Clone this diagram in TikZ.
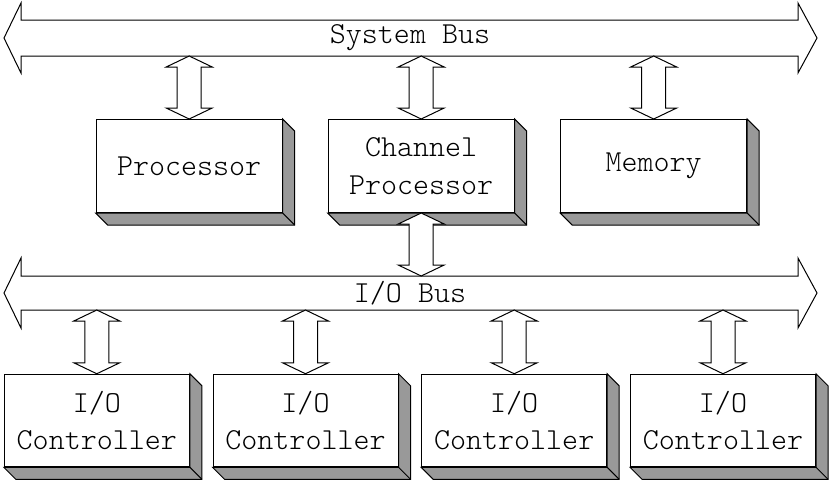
\documentclass[tikz,border=0pt]{standalone}
\usepackage{fontspec}
\usetikzlibrary{calc}
\newfontfamily\lightmono{lmmonolt10-regular.otf}
\newcommand\labfont{\fontsize{30.5}{37.3}\selectfont\lightmono}
\tikzset{
  box/.style={draw, fill=white, line width=1pt, minimum width=186pt, minimum height=93pt, inner sep=0pt, align=center, font=\labfont},
  shade3d/.style={draw, fill=black!40, line width=1pt, line join=miter},
  barrow/.style={draw, fill=white, line width=1pt, line join=miter},
  buslabel/.style={inner sep=0pt, font=\labfont},
}
% shadow (3D extrusion) of a box node
\newcommand\shadowof[1]{%
  \path[shade3d] (#1.north east) -- ++(12,12) -- ($(#1.south east)+(12,12)$) -- ($(#1.south west)+(12,12)$) -- (#1.south west) -- (#1.south east) -- cycle;
  \draw[line width=1pt] (#1.south east) -- ++(12,12);}
% vertical double block arrow: #1 top point, #2 bottom point
\newcommand\vda[2]{%
  \path[barrow] let \p1=(#1), \p2=(#2) in
    (\x2,\y1) -- (\x2+23pt,\y1-11pt) -- (\x2+12pt,\y1-11pt) -- (\x2+12pt,\y2+11pt)
    -- (\x2+23pt,\y2+11pt) -- (\x2,\y2) -- (\x2-23pt,\y2+11pt) -- (\x2-12pt,\y2+11pt)
    -- (\x2-12pt,\y1-11pt) -- (\x2-23pt,\y1-11pt) -- cycle;}
% horizontal bus double arrow: #1 centre y, #2 shaft half width
\newcommand\busarrow[2]{%
  \path[barrow] (4,#1) -- (21,#1-35) -- (21,#1-#2) -- (798,#1-#2) -- (798,#1-35)
    -- (817,#1) -- (798,#1+35) -- (798,#1+#2) -- (21,#1+#2) -- (21,#1+35) -- cycle;}
\begin{document}
\begin{tikzpicture}[x=1pt,y=-1pt]
  \useasboundingbox (0,0) rectangle (831,483);
  % buses
  \busarrow{38}{18}
  \node[buslabel] (sysbus) at (410,38) {System Bus};
  \busarrow{293}{17}
  \node[buslabel] (iobus) at (410,293) {I/O Bus};
  \coordinate (sysbot) at (0,56);
  \coordinate (iotop) at (0,276);
  \coordinate (iobot) at (0,310);
  % top boxes
  \node[box] (proc) at (189.2,166) {Processor};
  \node[box] (chan) at (421.2,166) {Channel\\Processor};
  \node[box] (mem) at (653.7,166) {Memory};
  \shadowof{proc}\shadowof{chan}\shadowof{mem}
  % controllers
  \foreach \cc/\xx in {c1/96.8, c2/305.5, c3/514.2, c4/723}{
    \node[box, minimum width=185pt, minimum height=92.5pt] (\cc) at (\xx,420.5) {I/O\\Controller};
    \shadowof{\cc}
  }
  % connectors
  \vda{proc.north |- sysbot}{proc.north}
  \vda{chan.north |- sysbot}{chan.north}
  \vda{mem.north |- sysbot}{mem.north}
  \vda{chan.south}{chan.south |- iotop}
  \vda{c1.north |- iobot}{c1.north}
  \vda{c2.north |- iobot}{c2.north}
  \vda{c3.north |- iobot}{c3.north}
  \vda{c4.north |- iobot}{c4.north}
\end{tikzpicture}
\end{document}
